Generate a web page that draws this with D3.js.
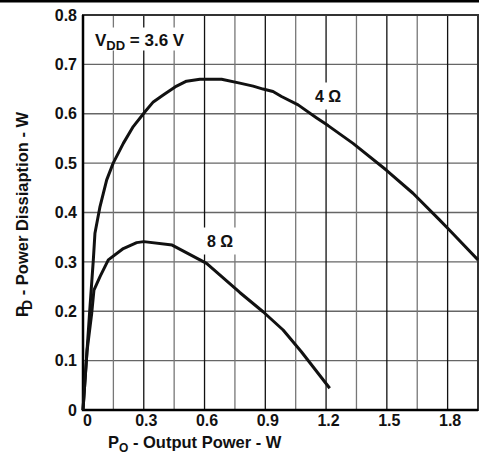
<!DOCTYPE html>
<html>
<head>
<meta charset="utf-8">
<script src="https://cdn.jsdelivr.net/npm/d3@7"></script>
<style>
  body { margin: 0; background: #fff; }
  svg { display: block; font-family: "Liberation Sans", Arial, sans-serif; font-weight: bold; }
</style>
</head>
<body>
<svg class="chart" width="479" height="459"></svg>
<script>
// values (P in W, PD in W)
var p4Ohm  = [0, 0.033, 0.051, 0.059, 0.084, 0.117, 0.149, 0.199, 0.248, 0.306, 0.347, 0.396, 0.462, 0.511, 0.577, 0.684, 0.774, 0.84, 0.889, 0.938, 0.98, 1.062, 1.152, 1.21, 1.333, 1.497, 1.629, 1.76, 1.81, 1.95];
var pd4Ohm = [0, 0.2, 0.304, 0.358, 0.412, 0.466, 0.50, 0.54, 0.574, 0.604, 0.624, 0.638, 0.656, 0.666, 0.670, 0.670, 0.662, 0.656, 0.650, 0.645, 0.635, 0.618, 0.592, 0.576, 0.540, 0.486, 0.439, 0.385, 0.364, 0.304];
var p8Ohm  = [0, 0.02, 0.043, 0.054, 0.084, 0.125, 0.199, 0.265, 0.30, 0.44, 0.61, 0.774, 0.889, 0.988, 1.078, 1.218];
var pd8Ohm = [0, 0.12, 0.196, 0.243, 0.27, 0.304, 0.327, 0.339, 0.341, 0.334, 0.297, 0.238, 0.199, 0.162, 0.118, 0.044];

var xTicks = [0, 0.3, 0.6, 0.9, 1.2, 1.5, 1.8];
var yTicks = [0, 0.1, 0.2, 0.3, 0.4, 0.5, 0.6, 0.7, 0.8];
var xGrid = d3.range(1, 13).map(i => i * 0.15);

var svg = d3.select(".chart");
const plotL = 83, plotR = 478, plotT = 15, plotB = 410;

const x = d3.scaleLinear().domain([0, 1.95]).range([plotL, plotR]);
const y = d3.scaleLinear().domain([0, 0.8]).range([plotB, plotT]);

// line across the very top of the page
svg.append('rect').attr('x', 0).attr('y', 0).attr('width', 479).attr('height', 2.5).attr('fill', '#000');

const grid = svg.append('g');
grid.selectAll('.hgrid').data(yTicks.slice(1, -1))
    .enter().append('line')
    .attr('x1', plotL).attr('x2', plotR)
    .attr('y1', d => y(d)).attr('y2', d => y(d))
    .attr('stroke', '#666').attr('stroke-width', 1.3);

grid.selectAll('.vgrid').data(xGrid)
    .enter().append('line')
    .attr('x1', d => x(d)).attr('x2', d => x(d))
    .attr('y1', plotT).attr('y2', plotB)
    .attr('stroke', (d, i) => i % 2 ? '#111' : '#777')
    .attr('stroke-width', 1.3);

// white boxes behind the labels
function label(cx, cy, w, h) {
    svg.append('rect').attr('x', cx - w / 2).attr('y', cy - h / 2)
        .attr('width', w).attr('height', h).attr('fill', '#fff');
}
label(143, 39, 104, 23);
label(329, 96, 40, 27);
label(219, 241, 38, 27);

// frame
svg.append('rect').attr('x', plotL).attr('y', plotT).attr('width', plotR - plotL).attr('height', plotB - plotT)
    .attr('fill', 'none').attr('stroke', '#333').attr('stroke-width', 2);
svg.append('path').attr('d', `M${plotL},${plotT}V${plotB}H${plotR}`)
    .attr('fill', 'none').attr('stroke', '#000').attr('stroke-width', 2.5);

// curves
const line = d3.line().x(d => x(d[0])).y(d => y(d[1]));
[[p4Ohm, pd4Ohm], [p8Ohm, pd8Ohm]].forEach(s => {
    svg.append('path')
        .attr('d', line(d3.zip(s[0], s[1])))
        .attr('fill', 'none').attr('stroke', '#111')
        .attr('stroke-width', 3).attr('stroke-linejoin', 'round');
});

// axes
const fmt = d => d === 0 ? '0' : d3.format('.1f')(d);
const xAxis = svg.append('g').attr('transform', `translate(2,${plotB})`)
    .call(d3.axisBottom(x).tickValues(xTicks).tickSize(0).tickPadding(5).tickFormat(fmt));
const yAxis = svg.append('g').attr('transform', `translate(${plotL},0)`)
    .call(d3.axisLeft(y).tickValues(yTicks).tickSize(0).tickPadding(6).tickFormat(fmt));
[xAxis, yAxis].forEach(a => {
    a.select('.domain').remove();
    a.selectAll('text').attr('font-size', 16).attr('font-family', '"Liberation Sans", Arial, sans-serif')
        .attr('font-weight', 'bold').attr('fill', '#111');
});
xAxis.selectAll('.tick').filter(d => d === 0).select('text').attr('dx', 2);

// annotations
var vdd = svg.append('text').attr('x', 95).attr('y', 46).attr('font-size', 17).attr('fill', '#111');
vdd.append('tspan').text('V');
vdd.append('tspan').attr('dy', 4).attr('font-size', 13).text('DD');
vdd.append('tspan').attr('dy', -4).text(' = 3.6 V');

svg.append('text').attr('x', 315).attr('y', 102).attr('font-size', 16).attr('fill', '#111').text('4 Ω');
svg.append('text').attr('x', 207).attr('y', 247).attr('font-size', 16).attr('fill', '#111').text('8 Ω');

// axis titles
var xt = svg.append('text').attr('x', 108).attr('y', 448).attr('font-size', 16.5).attr('fill', '#111');
xt.append('tspan').text('P');
xt.append('tspan').attr('dy', 4).attr('font-size', 12).text('O');
xt.append('tspan').attr('dy', -4).text(' - Output Power - W');

var yt = svg.append('text').attr('transform', 'translate(28,317) rotate(-90)').attr('font-size', 16.5).attr('fill', '#111');
yt.append('tspan').text('P');
yt.append('tspan').attr('dx', -4).attr('dy', 4).attr('font-size', 14).text('D');
yt.append('tspan').attr('dy', -4).text(' - Power Dissiaption - W');
</script>
</body>
</html>
